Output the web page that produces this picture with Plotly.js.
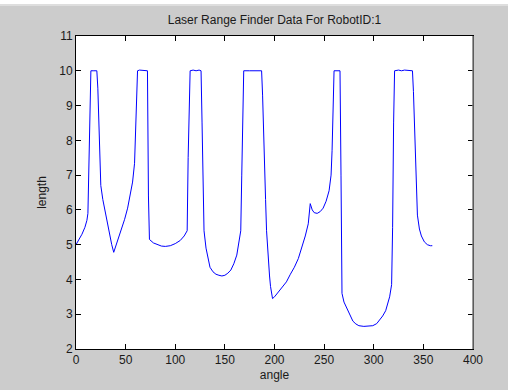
<!DOCTYPE html>
<html>
<head>
<meta charset="utf-8">
<script src="https://cdn.plot.ly/plotly-3.0.1.min.js"></script>
<style>
  html, body { margin: 0; padding: 0; background: #ffffff; width: 508px; height: 390px; overflow: hidden; }
  #wrap { position: absolute; left: 0; top: 4px; width: 508px; height: 386px; border-top: 2px solid #dedede; box-sizing: border-box; background: #cccccc; }
  #chart { position: absolute; left: 0; top: -2px; width: 508px; height: 386px; }
</style>
</head>
<body>
<div id="wrap"><div id="chart"></div></div>
<script>
var angle = [
  0, 3, 6, 9, 11, 12, 13, 14, 15, 18, 21,
  22, 23, 24, 25, 27, 29, 31, 34, 36, 38,
  40, 43, 46, 49, 52, 55, 57, 59, 60, 61, 62, 64, 66, 69, 72,
  73, 74, 78, 82, 86, 90, 95, 100, 105, 109, 111, 112, 113, 114, 115, 118, 121, 124, 126,
  127, 128, 129, 131, 133, 135, 138, 141, 144, 147, 150, 153, 156, 159, 162, 164, 166,
  167, 168, 169, 175, 181, 187,
  188, 189, 190, 191, 192, 193, 194, 195, 196, 197, 198,
  200, 204, 208, 212, 216, 220, 224, 228, 231, 234, 236, 238, 240, 243, 246, 249, 252, 255, 257, 258, 259, 260, 263, 266,
  267, 268, 270, 273, 276, 279, 282, 285, 290, 295, 299, 303, 306, 309, 312, 314, 316, 318,
  319, 320, 321, 325, 328, 331, 335, 339,
  340, 341, 342, 343, 344, 346, 348, 351, 354, 357, 359
];
var length = [
  5.0, 5.15, 5.3, 5.5, 5.7, 5.9, 7.3, 9.1, 10.0, 10.0, 10.0,
  9.5, 8.6, 7.3, 6.7, 6.3, 6.0, 5.7, 5.3, 5.0, 4.78,
  4.95, 5.2, 5.45, 5.73, 6.05, 6.45, 6.8, 7.34, 8.2, 9.2, 10.0, 10.02, 10.02, 10.0, 10.0,
  6.4, 5.15, 5.05, 5.0, 4.96, 4.95, 4.97, 5.03, 5.12, 5.25, 5.35, 5.4, 7.5, 9.3, 10.0, 10.02, 10.0, 10.02, 10.0,
  8.5, 6.4, 5.4, 4.9, 4.6, 4.35, 4.22, 4.15, 4.12, 4.1, 4.12, 4.18, 4.27, 4.45, 4.7, 5.0, 5.4,
  7.0, 9.0, 10.0, 10.0, 10.0, 10.0,
  9.3, 8.0, 7.2, 6.3, 5.4, 4.9, 4.5, 4.1, 3.8, 3.55, 3.45,
  3.5, 3.65, 3.8, 3.93, 4.15, 4.35, 4.6, 4.95, 5.25, 5.6, 6.18, 6.0, 5.92, 5.9, 5.95, 6.05, 6.25, 6.55, 7.0, 7.7, 8.7, 10.0, 10.0, 10.0,
  7.0, 3.6, 3.35, 3.15, 2.95, 2.8, 2.72, 2.67, 2.65, 2.65, 2.67, 2.73, 2.83, 2.95, 3.1, 3.28, 3.5, 3.85,
  5.5, 8.5, 10.0, 10.02, 10.0, 10.02, 10.0, 10.0,
  9.4, 8.5, 7.7, 6.3, 5.85, 5.45, 5.25, 5.08, 5.0, 4.97, 4.97
];
var xTicks = [0, 50, 100, 150, 200, 250, 300, 350, 400];
var yTicks = [2, 3, 4, 5, 6, 7, 8, 9, 10, 11];

var font = 'Liberation Sans, Arial, sans-serif';
var trace = {
  x: angle, y: length, type: 'scatter', mode: 'lines',
  line: { color: '#0000ff', width: 1 }, hoverinfo: 'none'
};
var axisCommon = {
  showgrid: false, zeroline: false, showline: true, linecolor: '#000000', linewidth: 1,
  mirror: 'ticks', ticks: 'inside', ticklen: 5, tickcolor: '#000000', tickwidth: 1,
  tickfont: { family: font, size: 12, color: '#1a1a1a' }, tickmode: 'array'
};
var layout = {
  width: 508, height: 386,
  paper_bgcolor: 'rgba(0,0,0,0)', plot_bgcolor: '#ffffff',
  margin: { l: 76, r: 35, t: 32, b: 41, pad: 0 },
  showlegend: false,
  title: { text: 'Laser Range Finder Data For RobotID:1', font: { family: font, size: 12, color: '#1a1a1a' },
           x: 0.5, xref: 'paper', xanchor: 'center', y: 1 - 16 / 386, yref: 'container', yanchor: 'middle' },
  xaxis: Object.assign({}, axisCommon, {
    range: [0, 400], tickvals: xTicks, ticktext: xTicks.map(String),
    title: { text: 'angle', font: { family: font, size: 12, color: '#1a1a1a' }, standoff: 4 }
  }),
  yaxis: Object.assign({}, axisCommon, {
    range: [2, 11], tickvals: yTicks, ticktext: yTicks.map(String),
    title: { text: 'length', font: { family: font, size: 12, color: '#1a1a1a' }, standoff: 10 }
  }),
  shapes: [
    { type: 'line', xref: 'paper', yref: 'paper', x0: 1, x1: 1, y0: 0, y1: 1,
      line: { color: '#7a7a7a', width: 1.5 } }
  ]
};
Plotly.newPlot('chart', [trace], layout, { staticPlot: true, displayModeBar: false });
</script>
</body>
</html>
